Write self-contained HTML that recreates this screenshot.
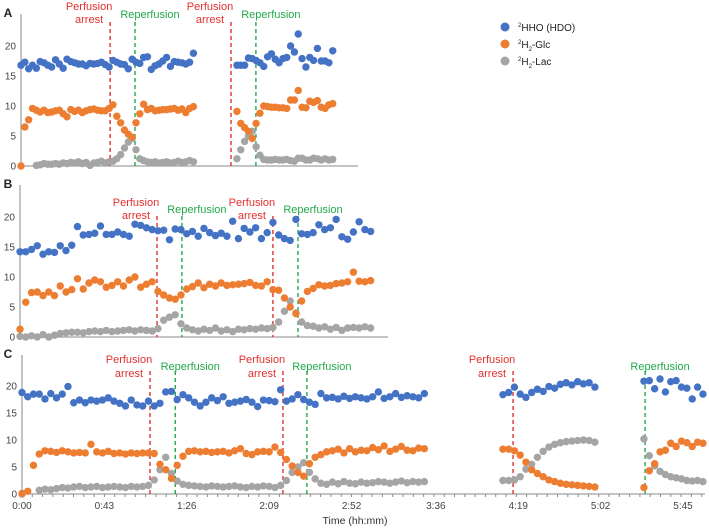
<!DOCTYPE html>
<html><head><meta charset="utf-8"><style>
html,body{margin:0;padding:0;background:#fff;}
svg{display:block;font-family:"Liberation Sans",sans-serif;}
</style></head>
<body>
<svg id="chart" width="709" height="530" viewBox="0 0 709 530" xmlns="http://www.w3.org/2000/svg"></svg>
<script>
// ---------- Data ----------
const yTicks = [0, 5, 10, 15, 20];
const xTickLabels = ["0:00","0:43","1:26","2:09","2:52","3:36","4:19","5:02","5:45"];
const xTickMinutes = [0,43,86,129,172,216,259,302,345];
const seriesNames = ["²HHO (HDO)","²H₂-Glc","²H₂-Lac"];

// Panel A
const aEvents = [46.5, 59.5, 109.6, 122.6];
const aSegStart = [0, 112.7];
const aSegStep = [2, 2];
const aHDO1 = [16.8,17.3,16.2,16.8,16.3,17.4,17.2,16.8,16.5,17.7,17.0,16.3,17.8,17.4,17.2,17.0,17.0,16.7,17.1,17.0,17.1,17.3,16.9,16.5,17.6,17.3,17.0,16.9,16.2,17.8,17.3,17.1,18.1,18.2,16.1,16.7,17.0,17.5,18.1,16.6,17.4,17.3,17.2,17.0,17.3,18.8];
const aGlc1 = [0,6.5,7.7,9.6,9.3,9.0,9.3,8.9,9.0,9.2,9.3,8.7,8.2,9.4,9.1,9.3,8.9,9.2,9.4,9.5,9.3,9.2,9.2,9.6,10.2,8.3,7.2,6.0,5.3,4.8,7.2,8.7,10.3,9.4,9.6,9.2,9.3,9.4,9.4,9.5,9.6,9.3,9.5,8.9,9.6,9.9];
const aLac1 = [null,null,null,null,0.1,0.2,0.4,0.3,0.3,0.4,0.3,0.5,0.4,0.6,0.5,0.7,0.4,0.6,0.1,0.5,0.6,0.8,0.5,0.7,0.8,1.2,1.9,3.0,4.0,4.6,2.7,1.2,0.9,0.7,0.6,0.7,0.5,0.6,0.7,0.5,0.6,0.8,0.6,0.7,0.9,0.7];
const aHDO2 = [16.8,16.8,16.8,18.0,17.9,17.6,17.2,16.6,18.2,18.7,17.8,17.2,17.9,18.1,20.0,19.0,22.0,17.9,16.5,18.1,17.6,19.6,17.5,17.5,17.2,19.2];
const aGlc2 = [9.1,7.1,6.4,5.8,4.6,7.1,8.8,10.0,9.9,9.8,9.8,9.7,9.7,9.6,11.0,11.0,12.6,9.8,9.7,10.8,10.6,10.9,9.8,9.6,10.2,10.4];
const aLac2 = [1.2,2.7,4.1,5.0,5.8,3.2,1.8,1.1,1.0,1.0,1.1,1.0,1.0,1.1,0.9,0.8,1.3,1.3,1.0,1.0,1.3,1.2,1.0,1.2,1.0,1.1];

// Panel B
const bEvents = [71.5, 84.5, 132.0, 145.1];
const bSegStart = [0];
const bSegStep = [3];
const bHDO1 = [14.2,14.2,14.6,15.2,13.8,14.2,14.1,15.2,14.4,15.3,18.4,17.0,17.1,17.3,18.5,17.1,17.1,17.5,17.1,16.8,18.8,18.6,18.2,17.9,17.7,17.8,16.2,18.0,17.9,17.2,17.6,16.8,18.1,17.4,16.9,17.3,16.8,19.3,16.4,18.1,17.5,18.2,16.4,17.4,19.1,17.0,16.4,16.1,19.6,17.2,17.1,17.4,18.7,17.9,18.2,19.6,16.7,16.3,17.5,19.2,17.9,17.6];
const bGlc1 = [1.3,5.8,7.4,7.5,6.9,7.5,6.9,8.5,7.5,7.9,9.7,8.0,9.0,9.5,9.2,8.3,8.6,9.2,8.5,9.5,10.0,8.3,8.8,9.2,7.6,7.0,6.5,6.3,7.0,8.0,8.4,9.0,8.2,8.8,8.5,9.0,8.6,8.7,8.8,8.9,9.1,8.6,8.5,9.2,7.9,7.8,6.5,5.0,3.9,6.0,7.6,8.1,8.7,8.5,8.6,8.9,9.0,9.2,10.8,9.3,9.2,9.4];
const bLac1 = [0.1,0.0,0.2,0.0,0.4,0.0,0.3,0.6,0.7,0.8,0.8,0.7,0.9,1.0,0.9,1.1,0.9,1.0,1.1,1.2,1.0,1.2,1.1,1.0,1.4,2.8,3.3,3.7,2.2,1.5,1.2,1.0,1.3,1.1,1.5,1.0,1.2,0.9,1.3,1.2,1.4,1.3,1.5,1.4,1.6,2.5,4.3,6.0,4.0,2.5,1.9,1.8,1.5,1.7,1.3,1.6,1.1,1.5,1.6,1.5,1.7,1.5];

// Panel C
const cEvents = [66.8, 80.0, 136.2, 148.7, 256.3, 325.2];
const cSegStart = [0, 251, 324.6];
const cSegStep = [3, 3, 2.8];
const cHDO1 = [18.8,18.0,18.5,18.5,17.6,18.6,17.8,18.5,19.9,16.9,17.4,16.9,17.4,17.2,17.4,17.8,17.2,16.8,16.3,17.4,16.5,16.3,17.2,16.3,16.8,18.9,19.0,17.5,18.4,17.8,17.0,16.3,17.0,17.8,17.3,18.0,16.8,17.0,17.2,17.5,17.0,16.2,17.4,17.3,17.1,19.3,17.2,17.6,18.4,17.5,17.0,16.6,18.6,17.8,17.9,17.6,18.1,17.7,18.0,17.8,17.6,18.0,18.9,17.7,18.0,18.6,17.9,18.2,18.0,17.8,18.6];
const cGlc1 = [0.1,0.5,5.3,7.4,8.0,7.9,7.7,8.0,7.8,7.6,7.7,7.6,9.2,7.8,7.6,7.9,7.5,7.6,7.4,7.6,7.5,7.6,7.6,7.5,5.5,4.5,2.9,5.3,7.0,7.9,8.0,7.8,7.9,7.7,7.8,7.9,7.6,8.0,8.4,7.5,7.3,7.8,7.9,7.8,8.7,7.7,6.4,5.2,4.0,3.3,5.6,6.8,7.3,7.8,8.0,8.3,7.6,8.4,7.8,8.1,8.0,8.6,8.2,8.9,7.9,8.3,8.8,8.1,8.0,8.5,8.4];
const cLac1 = [0.0,null,null,0.7,0.9,0.8,1.0,1.2,1.1,1.3,1.4,1.2,1.3,1.4,1.2,1.3,1.4,1.3,1.2,1.4,1.3,1.4,1.6,2.6,4.5,6.8,3.8,2.4,1.8,1.6,1.5,1.4,1.3,1.5,1.4,1.3,1.4,1.5,1.3,1.2,1.4,1.3,1.5,1.4,1.2,1.6,2.5,4.0,5.0,5.8,4.0,2.8,2.0,1.8,2.2,1.9,2.3,2.0,1.9,2.2,2.0,2.1,2.3,2.2,2.0,2.2,2.4,2.1,2.3,2.2,2.3];
const cHDO2 = [18.4,18.8,19.8,18.5,17.9,18.8,19.4,19.0,19.9,19.6,20.3,20.6,20.2,20.8,20.4,20.6,19.8];
const cGlc2 = [8.3,8.3,8.0,7.2,5.9,4.5,3.8,3.2,2.6,2.3,2.0,1.8,1.7,1.6,1.5,1.4,1.3];
const cLac2 = [2.5,2.5,2.6,3.2,4.6,5.5,6.8,7.9,8.7,9.2,9.5,9.7,9.8,9.9,10.0,9.9,9.6];
const cHDO3 = [20.9,21.0,19.5,21.3,18.9,20.8,21.0,19.8,19.6,17.6,19.8,18.5];
const cGlc3 = [1.2,4.3,5.6,7.8,8.1,9.4,8.8,9.8,9.5,8.8,9.6,9.4];
const cLac3 = [10.2,7.1,5.2,4.2,3.6,3.2,3.0,2.8,2.5,2.4,2.5,2.3];

// ---------- Drawing ----------
const NS = "http://www.w3.org/2000/svg";
const svg = document.getElementById("chart");
const COLORS = ["#4472C4", "#ED7D31", "#A5A5A5"];
const PXMIN = 1.916;
function mk(tag, attrs, parent) {
  const e = document.createElementNS(NS, tag);
  for (const k in attrs) e.setAttribute(k, attrs[k]);
  (parent || svg).appendChild(e);
  return e;
}

const panels = [
  {id:"a", letter:"A", x0:21, xEnd:358, y0:166, k:6, yTop:14, events:aEvents, segStart:aSegStart, segStep:aSegStep,
   segs:[[aHDO1,aGlc1,aLac1],[aHDO2,aGlc2,aLac2]], pY:6, aY:19, rY:14, lineTop:22, letterY:17, xLabels:false},
  {id:"b", letter:"B", x0:20, xEnd:388, y0:337, k:6, yTop:185, events:bEvents, segStart:bSegStart, segStep:bSegStep,
   segs:[[bHDO1,bGlc1,bLac1]], pY:202, aY:215, rY:209, lineTop:216, letterY:188, xLabels:false},
  {id:"c", letter:"C", x0:22, xEnd:705, y0:494, k:5.4, yTop:355, events:cEvents, segStart:cSegStart, segStep:cSegStep,
   segs:[[cHDO1,cGlc1,cLac1],[cHDO2,cGlc2,cLac2],[cHDO3,cGlc3,cLac3]], pY:359, aY:373, rY:366, lineTop:371, letterY:358, xLabels:true}
];

panels.forEach(p => {
  const g = mk("g", {});
  
  
  const xs = t => p.x0 + t * PXMIN;
  const ys = v => p.y0 - v * p.k;

  const lt = mk("text", {x:8, y:p.letterY, "font-size":12, "font-weight":"bold", fill:"#222", "text-anchor":"middle"}, g);
  lt.textContent = p.letter;
  
  

  const ya = mk("line", {x1:p.x0, x2:p.x0, y1:p.yTop, y2:p.y0, stroke:"#8a8a8a", "stroke-width":1}, g);
  
  
  const xa = mk("line", {x1:p.x0, x2:p.xEnd, y1:p.y0, y2:p.y0, stroke:"#8a8a8a", "stroke-width":1}, g);
  
  

  yTicks.forEach(v => {
    const t = mk("text", {x:p.x0 - 5, y:ys(v) + 3.5, "font-size":10, fill:"#444", "text-anchor":"end"}, g);
    t.textContent = v;
    
    
  });

  if (p.xLabels) {
    const step = 43 / 8;
    for (let m = 0; m * step <= 360; m++) {
      const x = xs(m * step);
      if (x > p.xEnd) break;
      const tk = mk("line", {x1:x, x2:x, y1:p.y0, y2:p.y0 + 3, stroke:"#8a8a8a", "stroke-width":1}, g);
      
      
    }
    xTickLabels.forEach((lab, i) => {
      const t = mk("text", {x:xs(xTickMinutes[i]), y:p.y0 + 15, "font-size":10, fill:"#444", "text-anchor":"middle"}, g);
      t.textContent = lab;
      
      
    });
  }

  p.events.forEach((ev, i) => {
    const x = xs(ev);
    const arrest = i % 2 === 0 && !(p.id === "c" && i === 5);
    const col = arrest ? "#E0312F" : "#22A94A";
    const ln = mk("line", {x1:x, x2:x, y1:p.lineTop, y2:p.y0, stroke:col, "stroke-width":1.4, "stroke-dasharray":"4,3"}, g);
    
    
    if (arrest) {
      const t1 = mk("text", {x:x - 21, y:p.pY + 4, "font-size":11, fill:col, "text-anchor":"middle"}, g);
      t1.textContent = "Perfusion";
      
      
      const t2 = mk("text", {x:x - 21, y:p.aY + 4, "font-size":11, fill:col, "text-anchor":"middle"}, g);
      t2.textContent = "arrest";
      
      
    } else {
      const t = mk("text", {x:x + 15, y:p.rY + 4, "font-size":11, fill:col, "text-anchor":"middle"}, g);
      t.textContent = "Reperfusion";
      
      
    }
  });

  [2, 1, 0].forEach(si => {
    p.segs.forEach((seg, gi) => {
      seg[si].forEach((v, i) => {
        if (v === null) return;
        const c = mk("circle", {cx:xs(p.segStart[gi] + i * p.segStep[gi]), cy:ys(v), r:3.7, fill:COLORS[si]}, g);
        
        
      });
    });
  });
});

const xt = mk("text", {x:355, y:524, "font-size":10.5, fill:"#333", "text-anchor":"middle"});
xt.textContent = "Time (hh:mm)";



const lg = mk("g", {});


const legY = [27, 44, 61];
const legLabels = [
  ['<tspan font-size="6" dy="-4">2</tspan><tspan dy="4">HHO (HDO)</tspan>'],
  ['<tspan font-size="6" dy="-4">2</tspan><tspan dy="4">H</tspan><tspan font-size="6" dy="3">2</tspan><tspan dy="-3">-Glc</tspan>'],
  ['<tspan font-size="6" dy="-4">2</tspan><tspan dy="4">H</tspan><tspan font-size="6" dy="3">2</tspan><tspan dy="-3">-Lac</tspan>']
];
legY.forEach((y, i) => {
  const c = mk("circle", {cx:505, cy:y, r:4.5, fill:COLORS[i]}, lg);
  
  
  const t = mk("text", {x:518, y:y + 4, "font-size":10, fill:"#222"}, lg);
  t.innerHTML = legLabels[i][0];
  
  
});
</script>
</body></html>
